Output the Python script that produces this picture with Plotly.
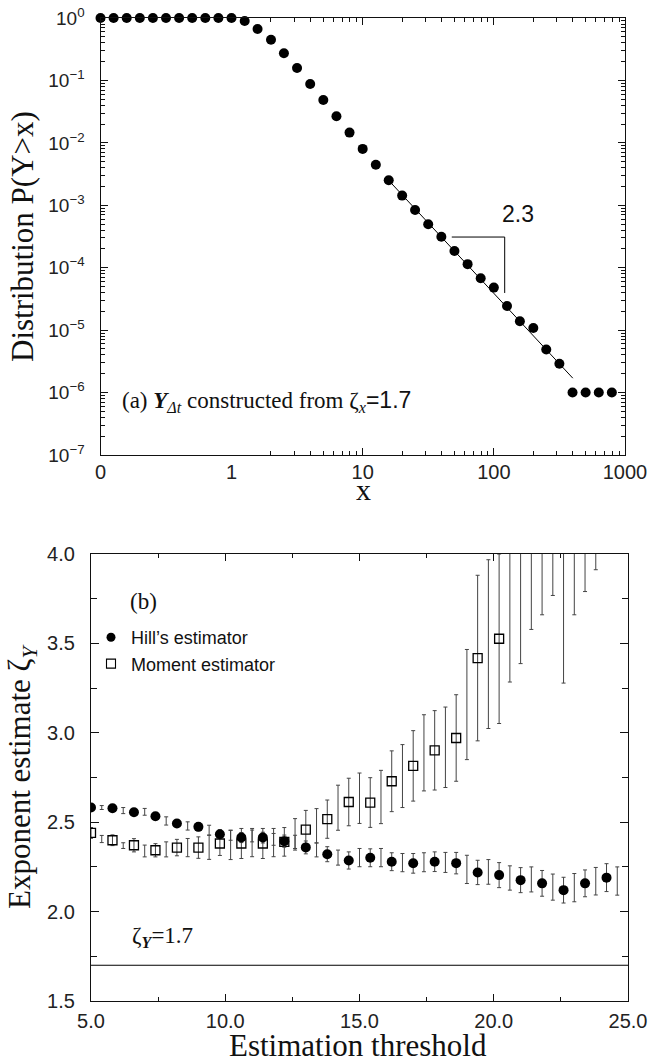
import plotly.graph_objects as go

W, H = 648, 1062

# ---------------- panel (a) data ----------------
lin_x = [0.0, 0.1, 0.2, 0.3, 0.4, 0.5, 0.6, 0.7, 0.8, 0.9, 1.0]
lin_p = [1.0, 1.0, 1.0, 1.0, 1.0, 1.0, 1.0, 1.0, 1.0, 1.0, 1.0]
tail_x = [1.26, 1.58, 2.0, 2.51, 3.16, 3.98, 5.01, 6.31, 7.94, 10.0,
          12.6, 15.8, 20.0, 25.1, 31.6, 39.8, 50.1, 63.1, 79.4, 100.0,
          126.0, 158.0, 200.0, 251.0, 316.0, 398.0, 501.0, 631.0, 794.0]
tail_p = [0.895, 0.667, 0.449, 0.272, 0.158, 0.0877, 0.0486, 0.0266, 0.0146, 0.0080,
          0.00447, 0.00251, 0.00143, 0.00084, 0.000496, 0.000314, 0.000185, 0.000114, 6.8e-5, 4.8e-5,
          2.44e-5, 1.39e-5, 1.08e-5, 4.9e-6, 2.9e-6, 1e-6, 1e-6, 1e-6, 1e-6]
fit_x = [15.8, 400.0]
fit_p = [2.5e-3, 1.7e-6]
slope_x = [47.8, 121.0, 121.0]
slope_p = [3.1e-4, 3.1e-4, 3.94e-5]
slope_label = "2.3"
zeta_x = 1.7

# ---------------- panel (b) data ----------------
hill_x = [5.0, 5.8, 6.6, 7.4, 8.2, 9.0, 9.8, 10.6, 11.4, 12.2, 13.0, 13.8, 14.6,
          15.4, 16.2, 17.0, 17.8, 18.6, 19.4, 20.2, 21.0, 21.8, 22.6, 23.4, 24.2]
hill_y = [2.582, 2.578, 2.556, 2.533, 2.493, 2.474, 2.433, 2.414, 2.414, 2.394, 2.359, 2.321, 2.286,
          2.301, 2.279, 2.270, 2.279, 2.271, 2.219, 2.204, 2.176, 2.158, 2.120, 2.158, 2.190]
hill_err = [0.012, 0.012, 0.015, 0.017, 0.020, 0.022, 0.025, 0.028, 0.030, 0.034, 0.036, 0.042, 0.048,
            0.050, 0.050, 0.055, 0.055, 0.060, 0.068, 0.070, 0.070, 0.072, 0.072, 0.075, 0.078]
hill_mid_x = [5.4, 6.2, 7.0, 7.8, 8.6, 9.4, 10.2, 11.0, 11.8, 12.6, 13.4, 14.2, 15.0,
              15.8, 16.6, 17.4, 18.2, 19.0, 19.8, 20.6, 21.4, 22.2, 23.0, 23.8, 24.6]
hill_mid_y = [2.582, 2.565, 2.558, 2.507, 2.479, 2.455, 2.427, 2.423, 2.404, 2.390, 2.345, 2.302, 2.302,
              2.302, 2.274, 2.276, 2.275, 2.236, 2.222, 2.188, 2.180, 2.137, 2.134, 2.170, 2.171]
hill_mid_err = [0.011, 0.017, 0.019, 0.023, 0.023, 0.028, 0.028, 0.033, 0.033, 0.037, 0.039, 0.042, 0.051,
                0.051, 0.051, 0.053, 0.056, 0.079, 0.069, 0.068, 0.070, 0.073, 0.079, 0.077, 0.079]

mom_x = [5.0, 5.8, 6.6, 7.4, 8.2, 9.0, 9.8, 10.6, 11.4, 12.2,
         13.0, 13.8, 14.6, 15.4, 16.2, 17.0, 17.8, 18.6, 19.4, 20.2]
mom_y = [2.440, 2.399, 2.371, 2.343, 2.358, 2.358, 2.381, 2.381, 2.381, 2.390,
         2.459, 2.517, 2.613, 2.610, 2.729, 2.815, 2.902, 2.971, 3.418, 3.526]
mom_err = [0.030, 0.030, 0.037, 0.037, 0.046, 0.060, 0.067, 0.084, 0.084, 0.080,
           0.107, 0.107, 0.133, 0.139, 0.170, 0.197, 0.222, 0.242, 0.463, 0.474]
mom_mid_x = [5.4, 6.2, 7.0, 7.8, 8.6, 9.4, 10.2, 11.0, 11.8, 12.6,
             13.4, 14.2, 15.0, 15.8, 16.6, 17.4, 18.2, 19.0, 19.8]
mom_mid_y = [2.406, 2.369, 2.339, 2.348, 2.358, 2.360, 2.373, 2.386, 2.386, 2.432,
             2.480, 2.581, 2.634, 2.641, 2.758, 2.888, 2.919, 3.158, 3.496]
mom_mid_err = [0.020, 0.016, 0.033, 0.042, 0.051, 0.068, 0.082, 0.079, 0.079, 0.088,
               0.096, 0.126, 0.141, 0.149, 0.176, 0.213, 0.225, 0.308, 0.472]
# estimates whose centre lies above the plotted range: only the lower end of the bar is visible
mom_off_x = [20.6, 21.0, 21.4, 21.8, 22.2, 22.6, 23.0, 23.4, 23.8]
mom_off_low = [3.284, 3.387, 3.578, 3.660, 3.768, 3.278, 3.660, 3.790, 3.912]
zeta_y = 1.7

SERIF = "Liberation Serif, Times New Roman, serif"
SANS = "Liberation Sans, Arial, Helvetica, sans-serif"
LINE = "#111111"
EBAR = "#444444"

# pixel -> paper helpers for layout boxes
def px(x):
    return x / W

def py(y):
    return 1 - y / H

fig = go.Figure()

# ---- panel (a) traces ----
fig.add_trace(go.Scatter(x=lin_x, y=lin_p, xaxis="x", yaxis="y", mode="markers",
                         marker=dict(symbol="circle", size=10, color="black"),
                         cliponaxis=False, showlegend=False))
fig.add_trace(go.Scatter(x=fit_x, y=fit_p, xaxis="x3", yaxis="y3", mode="lines",
                         line=dict(color="black", width=1), showlegend=False))
fig.add_trace(go.Scatter(x=slope_x, y=slope_p, xaxis="x3", yaxis="y3", mode="lines",
                         line=dict(color="black", width=1), showlegend=False))
fig.add_trace(go.Scatter(x=tail_x, y=tail_p, xaxis="x3", yaxis="y3", mode="markers",
                         marker=dict(symbol="circle", size=10, color="black"),
                         cliponaxis=False, showlegend=False))

# ---- panel (b) traces ----
eb = dict(type="data", visible=True, color=EBAR, thickness=1, width=2)
fig.add_trace(go.Scatter(x=mom_off_x, y=mom_off_low, xaxis="x2", yaxis="y2", mode="markers",
                         marker=dict(size=2, opacity=0),
                         error_y=dict(eb, symmetric=False, array=[1.5] * len(mom_off_x),
                                      arrayminus=[0] * len(mom_off_x)),
                         showlegend=False, hoverinfo="skip"))
fig.add_trace(go.Scatter(x=mom_mid_x, y=mom_mid_y, xaxis="x2", yaxis="y2", mode="markers",
                         marker=dict(size=2, opacity=0),
                         error_y=dict(eb, array=mom_mid_err),
                         showlegend=False, hoverinfo="skip"))
fig.add_trace(go.Scatter(x=hill_mid_x, y=hill_mid_y, xaxis="x2", yaxis="y2", mode="markers",
                         marker=dict(size=2, opacity=0),
                         error_y=dict(eb, array=hill_mid_err),
                         showlegend=False, hoverinfo="skip"))
fig.add_trace(go.Scatter(x=mom_x, y=mom_y, xaxis="x2", yaxis="y2", mode="markers",
                         name="Moment estimator",
                         marker=dict(symbol="square-open", size=9, color="black",
                                     line=dict(width=1.3, color="black")),
                         error_y=dict(eb, array=mom_err), showlegend=False))
fig.add_trace(go.Scatter(x=hill_x, y=hill_y, xaxis="x2", yaxis="y2", mode="markers",
                         name="Hill\u2019s estimator",
                         marker=dict(symbol="circle", size=10, color="black"),
                         error_y=dict(eb, array=hill_err), showlegend=False))
# legend entries (no data)
fig.add_trace(go.Scatter(x=[None], y=[None], xaxis="x2", yaxis="y2", mode="markers",
                         name="Hill\u2019s estimator",
                         marker=dict(symbol="circle", size=9, color="black")))
fig.add_trace(go.Scatter(x=[None], y=[None], xaxis="x2", yaxis="y2", mode="markers",
                         name="Moment estimator",
                         marker=dict(symbol="square-open", size=9, color="black",
                                     line=dict(width=1.1, color="black"))))

# ---- axes ----
common = dict(showline=True, linecolor=LINE, linewidth=1.3, ticks="inside", tickcolor=LINE,
              tickwidth=1, showgrid=False, zeroline=False, automargin=False,
              tickfont=dict(family=SANS, size=20, color="#222"))

x_split = 231.5
dec_minor = [m * 10 ** e for e in range(0, 3) for m in range(2, 10)]
y_minor = [m * 10.0 ** e for e in range(-7, 0) for m in range(2, 10)]
y_vals = [10.0 ** e for e in range(-7, 1)]
y_text = ["10<sup>\u2212%d</sup>" % (-e) if e < 0 else "10<sup>0</sup>" for e in range(-7, 1)]

fig.update_layout(
    xaxis=dict(common, domain=[px(100.5), px(x_split)], range=[0, 1], anchor="y",
               tickmode="array", tickvals=[0], ticktext=["0"], ticklen=7, mirror="ticks",
               ticklabelstandoff=-1),
    xaxis3=dict(common, type="log", domain=[px(x_split), px(625)], range=[0, 3], anchor="y3",
                tickmode="array", tickvals=[1, 10, 100, 1000], ticktext=["1", "10", "100", "1000"],
                ticklen=7, mirror="ticks", ticklabelstandoff=-1,
                minor=dict(tickmode="array", tickvals=dec_minor, ticks="inside", ticklen=4,
                           tickcolor=LINE, showgrid=False)),
    yaxis=dict(common, type="log", domain=[py(455), py(18)], range=[-7, 0], anchor="x",
               tickmode="array", tickvals=y_vals, ticktext=y_text, ticklen=7,
               tickfont=dict(family=SANS, size=19, color="#222"), ticklabelstandoff=11,
               minor=dict(tickmode="array", tickvals=y_minor, ticks="inside", ticklen=4,
                          tickcolor=LINE, showgrid=False)),
    yaxis3=dict(common, type="log", domain=[py(455), py(18)], range=[-7, 0], anchor="x3",
                side="right", tickmode="array", tickvals=y_vals, showticklabels=False, ticklen=7,
                minor=dict(tickmode="array", tickvals=y_minor, ticks="inside", ticklen=4,
                           tickcolor=LINE, showgrid=False)),
    xaxis2=dict(common, domain=[px(91), px(628)], range=[5, 25], anchor="y2",
                tickmode="array", tickvals=[5, 10, 15, 20, 25],
                ticktext=["5.0", "10.0", "15.0", "20.0", "25.0"], ticklen=7, mirror="ticks",
                ticklabelstandoff=2,
                minor=dict(tickmode="array", tickvals=[7.5, 12.5, 17.5, 22.5], ticks="inside",
                           ticklen=4, tickcolor=LINE, showgrid=False)),
    yaxis2=dict(common, domain=[py(1001), py(554)], range=[1.5, 4.0], anchor="x2",
                tickmode="array", tickvals=[1.5, 2.0, 2.5, 3.0, 3.5, 4.0],
                ticktext=["1.5", "2.0", "2.5", "3.0", "3.5", "4.0"], ticklen=8, mirror="ticks",
                ticklabelstandoff=11,
                minor=dict(tickmode="array", tickvals=[1.75, 2.25, 2.75, 3.25, 3.75], ticks="inside",
                           ticklen=6, tickcolor=LINE, showgrid=False)),
)

fig.add_shape(type="line", xref="x2 domain", x0=0, x1=1, yref="y2", y0=zeta_y, y1=zeta_y,
              line=dict(color="black", width=1.2))

ann = []
def text(t, x, y, size, family=SERIF, angle=0, xanchor="center", yanchor="middle"):
    ann.append(dict(text=t, x=px(x), y=py(y), xref="paper", yref="paper", showarrow=False,
                    textangle=angle, xanchor=xanchor, yanchor=yanchor,
                    font=dict(family=family, size=size, color="#111")))

text("Distribution P(Y&gt;x)", 22, 237, 31, angle=-90)
text("x", 363, 490, 30)
text("Estimation threshold", 358, 1045, 31)
text("Exponent estimate \u03b6<sub><i>Y</i></sub>", 22, 777, 31, angle=-90)
text("(a) <b><i>Y</i></b><sub><i>\u0394t</i></sub> constructed from \u03b6<sub><i>x</i></sub>"
     "<span style='font-family:Liberation Sans, Arial, sans-serif'>=%.1f</span>" % zeta_x,
     120, 402, 23, xanchor="left")
text(slope_label, 518, 214, 23, family=SANS)
text("(b)", 128, 601, 23, xanchor="left")
text("\u03b6<sub><b><i>Y</i></b></sub>=%.1f" % zeta_y, 130, 937, 23, xanchor="left")

fig.update_layout(
    annotations=ann,
    width=W, height=H, margin=dict(l=0, r=0, t=0, b=0),
    paper_bgcolor="white", plot_bgcolor="rgba(0,0,0,0)",
    font=dict(family=SANS, color="#111"),
    showlegend=True,
    legend=dict(x=px(91), y=py(619), xanchor="left", yanchor="top",
                bgcolor="rgba(0,0,0,0)", font=dict(family=SANS, size=18, color="#111"),
                tracegroupgap=0, itemsizing="trace"),
)

fig.write_html("out.html", config={"displayModeBar": False},
               post_script="document.body.style.margin='0px';document.body.style.overflow='hidden';")
